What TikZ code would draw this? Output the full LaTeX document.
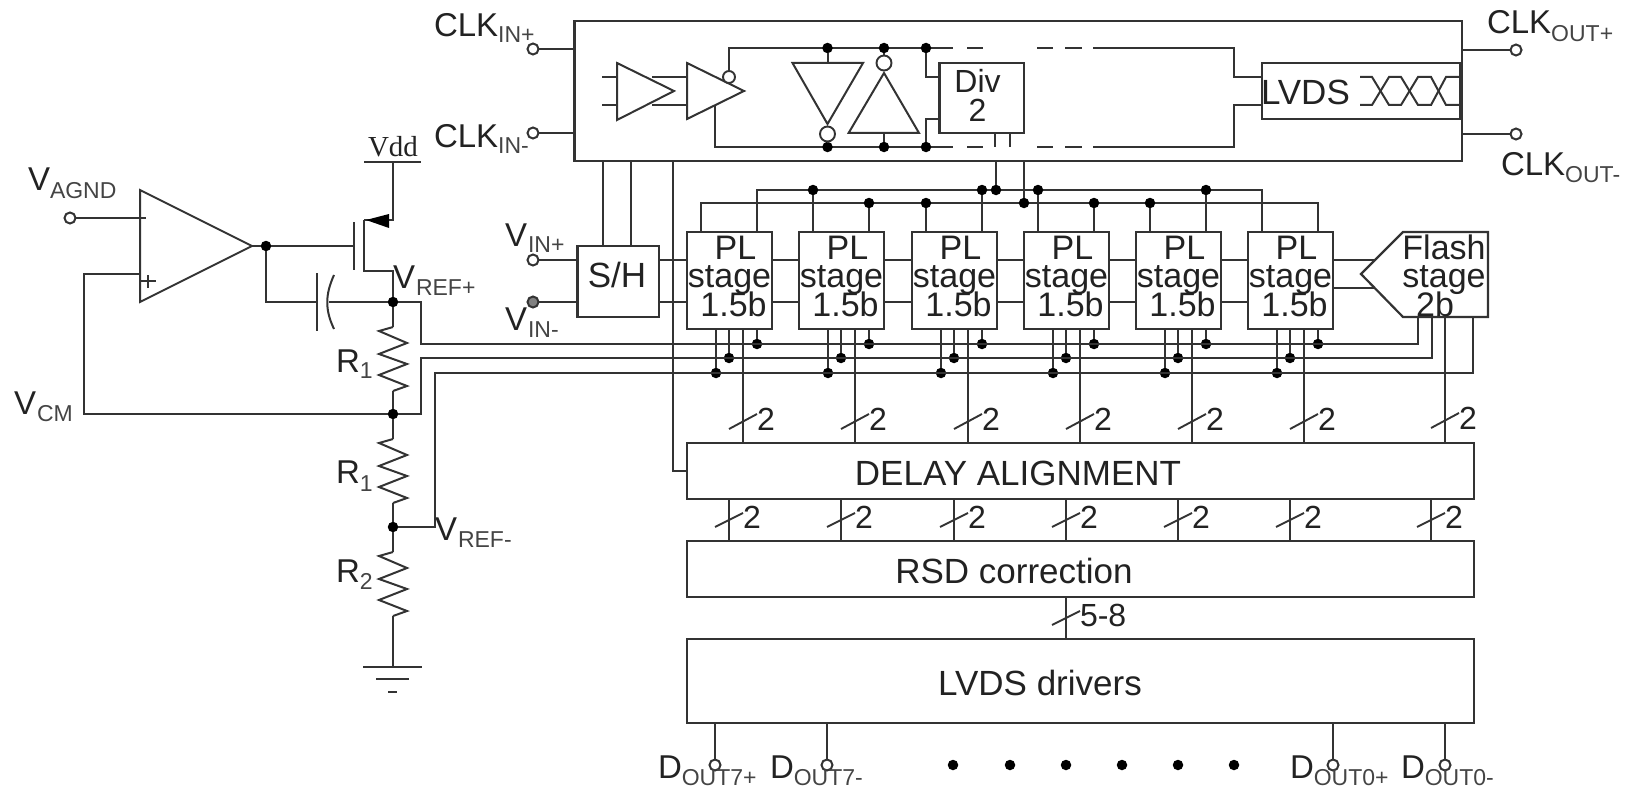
\documentclass[tikz,border=0pt]{standalone}
\usepackage{fontspec}
\setmainfont{Liberation Sans}
\usetikzlibrary{calc}
\definecolor{ln}{HTML}{333333}
\definecolor{tx}{HTML}{222222}
\definecolor{sb}{HTML}{444444}
\newcommand{\fsA}{\fontsize{33}{33}\selectfont}
\newcommand{\fsB}{\fontsize{23}{23}\selectfont}
\newcommand{\fsC}{\fontsize{32}{32}\selectfont}
\newcommand{\fsD}{\fontsize{35}{35}\selectfont}
\newcommand{\fsE}{\fontsize{34}{34}\selectfont}
% name, x, y (baseline-left), main, sub, drop, sub gap
\newcommand{\lbl}[7]{\node[txt,anchor=base west] (#1) at (#2,#3) {\fsA #4\hspace{#7pt}\raisebox{-#6pt}{\fsB\color{sb}#5}};}
\newcommand{\blk}[5]{\node[box,anchor=north west,minimum width={#4-#2},minimum height={#5-#3}] (#1) at (#2,#3) {};}
\newcommand{\resis}[1]{\draw[wire] (393,#1) -- (379,#1+4) -- (407,#1+16) -- (379,#1+27) -- (407,#1+37) -- (379,#1+48) -- (407,#1+59) -- (393,#1+64);}
% one line of a tight text stack: centred in the width, shifted by twice the gap given
\newcommand{\ctr}[2]{\hbox to 85pt{\hss#1#2\hss}}
\tikzset{
  x=1pt,y=-1pt,
  wire/.style={draw=ln,line width=2pt,line join=miter},
  thin wire/.style={draw=ln,line width=1.9pt},
  box/.style={draw=ln,line width=2.2pt,fill=none,inner sep=0pt,outer sep=0pt,rectangle},
  txt/.style={inner sep=0pt,outer sep=0pt,text=tx,align=center},
  dot/.style={circle,fill=black,draw=none,minimum size=10.5pt,inner sep=0pt,outer sep=0pt},
  pinc/.style={circle,draw=ln,line width=2pt,fill=white,minimum size=11pt,inner sep=0pt,outer sep=0pt},
  bub/.style={circle,draw=ln,line width=1.9pt,fill=white,minimum size=15pt,inner sep=0pt,outer sep=0pt},
  tri/.style={draw=ln,line width=2pt,line join=miter,fill=none},
}
\begin{document}
\begin{tikzpicture}
\useasboundingbox (0,0) rectangle (1640,789);
% ---------- rail reference coordinates
\coordinate (railA) at (0,190);
\coordinate (railB) at (0,203);
\coordinate (railC) at (0,344);
\coordinate (railD) at (0,358);
\coordinate (railE) at (0,373);
% ---------- blocks
\blk{clk}{574.5}{21}{1462}{161}
\blk{sh}{577.5}{246}{659}{317}
\node[txt] (shT) at (617,275) {\fsD S/H};
\blk{delay}{687}{443}{1474}{499}
\blk{rsd}{687}{541}{1474}{597}
\blk{drv}{687}{639}{1474}{723}
\node[txt] (delayT) at (1018,473) {\fsD DELAY ALIGNMENT};
\node[txt] (rsdT) at (1014,571) {\fsD RSD correction};
\node[txt] (drvT) at (1040,683) {\fsD LVDS drivers};
% ---------- pipeline stages
\foreach \i/\x in {1/687,2/799,3/912,4/1024,5/1136,6/1248}{
  \blk{p\i}{\x}{232}{\x+85}{329}
  \node[txt,anchor=base west] (p\i t) at (\x,259) {\fsE\vtop{\baselineskip=28.5pt\lineskiplimit=-1000pt\relax
     \ctr{\hspace*{12pt}}{PL}\ctr{}{stage}\ctr{\hspace*{8pt}}{1.5b}}};
  \coordinate (p\i s1) at (\x+14,232);
  \coordinate (p\i s2) at (\x+70,232);
  \coordinate (p\i b1) at (\x+29,329);
  \coordinate (p\i b2) at (\x+42,329);
  \coordinate (p\i b3) at (\x+56,329);
  \coordinate (p\i b4) at (\x+70,329);
  \node[dot] (p\i dE) at (p\i b1 |- railE) {};
  \node[dot] (p\i dD) at (p\i b2 |- railD) {};
  \node[dot] (p\i dC) at (p\i b4 |- railC) {};
  \draw[wire] (p\i b1) -- (p\i dE);
  \draw[wire] (p\i b2) -- (p\i dD);
  \draw[wire] (p\i b4) -- (p\i dC);
  \coordinate (u\i) at (p\i b3 |- delay.north);
  \coordinate (l\i) at (\x+42,499);
  \draw[wire] (p\i b3) -- (u\i);
  \draw[wire] (l\i) -- (l\i |- rsd.north);
  \draw[thin wire] ($(u\i)+(-14,-14)$) -- ($(u\i)+(14,-29)$);
  \node[txt] (u\i n) at ($(u\i)+(23,-24)$) {\fsC 2};
  \draw[thin wire] ($(l\i)+(-14,28)$) -- ($(l\i)+(14,14)$);
  \node[txt] (l\i n) at ($(l\i)+(23,18)$) {\fsC 2};
}
\foreach \a/\b in {1/2,2/3,3/4,4/5,5/6}{
  \draw[wire] (p\a.east |- 0,260) -- (p\b.west |- 0,260);
  \draw[wire] (p\a.east |- 0,302) -- (p\b.west |- 0,302);
}
% ---------- flash stage
\coordinate (fT) at (1403,232);
\coordinate (fTip) at (1361,274);
\coordinate (fB) at (1403,317);
\draw[box] (fT) -- (1488,232) -- (1488,317) -- (fB) -- (fTip) -- cycle;
\node[txt,anchor=base west] (flT) at (1401.5,259) {\fsE\vtop{\baselineskip=28.5pt\lineskiplimit=-1000pt\relax
     \ctr{}{Flash}\ctr{}{stage}\hbox to 85pt{\hss 2b\hspace*{18pt}\hss}}};
\draw[wire] (p6.east |- 0,260) -- (1375,260);
\draw[wire] (p6.east |- 0,288) -- (1375,288);
\coordinate (fu) at (1445,442);
\coordinate (fl) at (1431,499);
\draw[wire] (1445,317) -- (fu);
\draw[wire] (fl) -- (fl |- rsd.north);
\draw[thin wire] ($(fu)+(-14,-14)$) -- ($(fu)+(14,-29)$);
\node[txt] (fut) at ($(fu)+(23,-24)$) {\fsC 2};
\draw[thin wire] ($(fl)+(-14,28)$) -- ($(fl)+(14,14)$);
\node[txt] (flt) at ($(fl)+(23,18)$) {\fsC 2};
% 5-8 bus
\coordinate (bus) at (1066,597);
\draw[wire] (bus) -- (bus |- drv.north);
\draw[thin wire] (1052,625) -- (1080,611);
\node[txt,anchor=west] (bust) at (1080,615) {\fsC 5-8};
% ---------- rails on top of stages
\coordinate (aL) at (757,190); \coordinate (aR) at (1262,190);
\coordinate (bL) at (701,203); \coordinate (bR) at (1318,203);
\draw[wire] (p1s1) -- (bL) -- (bR) -- (p6s2);
\draw[wire] (p1s2) -- (aL) -- (aR) -- (p6s1);
\foreach \i/\lft/\rgt in {2/A/B,3/B/A,4/A/B,5/B/A}{
  \node[dot] (t\i l) at (p\i s1 |- rail\lft) {};
  \node[dot] (t\i r) at (p\i s2 |- rail\rgt) {};
  \draw[wire] (t\i l) -- (p\i s1);
  \draw[wire] (t\i r) -- (p\i s2);
}
% Clock feeds to rails
\coordinate (ck1) at (996,161); \coordinate (ck2) at (1024,161);
\node[dot] (ckd1) at (ck1 |- railA) {};
\node[dot] (ckd2) at (ck2 |- railB) {};
\draw[wire] (ck1) -- (ckd1);
\draw[wire] (ck2) -- (ckd2);
\draw[wire] (995,133) -- (995,147);
\draw[wire] (1010,133) -- (1010,147);
\draw[wire] (603,161) -- (603,246);
\draw[wire] (631,161) -- (631,246);
\draw[wire] (673,161) -- (673,471) -- (687,471);
% S/H to first stage
\draw[wire] (659,260) -- (687,260);
\draw[wire] (659,302) -- (687,302);
% ---------- clock block inside
\draw[tri] (617,63) -- (674,91) -- (617,120) -- cycle;
\draw[tri] (687,63) -- (744,91) -- (687,119) -- cycle;
\draw[wire] (602,77) -- (617,77);
\draw[wire] (602,105) -- (617,105);
\draw[wire] (652,77) -- (687,77);
\draw[wire] (652,105) -- (687,105);
\node[bub,minimum size=12pt] (bubIn) at (729,77) {};
\coordinate (tL) at (729,48); \coordinate (bL2) at (715,147); \coordinate (bU) at (715,105);
\draw[wire] (bubIn) -- (tL) -- (953,48);
\draw[wire] (bU) -- (bL2) -- (953,147);
\draw[wire] (967,48) -- (983,48); \draw[wire] (1037,48) -- (1053,48); \draw[wire] (1065,48) -- (1082,48);
\draw[wire] (967,147) -- (983,147); \draw[wire] (1037,147) -- (1053,147); \draw[wire] (1065,147) -- (1082,147);
\draw[wire] (1093,48) -- (1234,48) -- (1234,77) -- (1262,77);
\draw[wire] (1093,147) -- (1234,147) -- (1234,105) -- (1262,105);
% inverters
\draw[tri] (792.5,63) -- (863,63) -- (827.5,124) -- cycle;
\node[bub] (bubA) at (827.5,134) {};
\draw[tri] (848.6,133) -- (919,133) -- (884,73) -- cycle;
\node[bub] (bubB) at (884,63) {};
\node[dot] (iA) at (827.5,48) {};
\node[dot] (iB) at (884,48) {};
\node[dot] (iC) at (926,48) {};
\node[dot] (jA) at (827.5,147) {};
\node[dot] (jB) at (884,147) {};
\node[dot] (jC) at (926,147) {};
\draw[wire] (iA) -- (827.5,63);
\draw[wire] (jB) -- (884,133);
\draw[wire] (bubB) -- (iB);
\draw[wire] (bubA) -- (jA);
\blk{div}{939.5}{63}{1024}{133}
\node[txt,anchor=base west] (divT) at (935,92.5) {\fsC\vtop{\baselineskip=29pt\lineskiplimit=-1000pt\relax
     \ctr{}{Div}\ctr{}{2}}};
\draw[wire] (iC) -- (926,77) -- (939.5,77);
\draw[wire] (jC) -- (926,119) -- (939.5,119);
% LVDS
\blk{lv}{1262}{63}{1460}{119}
\node[txt,anchor=base west] (lvT) at (1261,105) {\fsD LVDS};
\draw[wire] (1360,77) -- (1372,77) -- (1389,105) -- (1401,105) -- (1418,77) -- (1431,77) -- (1446,105) -- (1462,105);
\draw[wire] (1360,105) -- (1372,105) -- (1389,77) -- (1401,77) -- (1418,105) -- (1431,105) -- (1446,77) -- (1462,77);
% ---------- pins
\node[pinc] (cip) at (533,49) {};
\node[pinc] (cim) at (533,133) {};
\node[pinc] (cop) at (1516,50) {};
\node[pinc] (com) at (1516,134) {};
\node[pinc] (vip) at (533,260) {};
\node[pinc,fill=gray] (vim) at (533,302) {};
\draw[wire] (cip) -- (clk.west |- cip);
\draw[wire] (cim) -- (clk.west |- cim);
\draw[wire] (cop) -- (clk.east |- cop);
\draw[wire] (com) -- (clk.east |- com);
\draw[wire] (vip) -- (sh.west |- vip);
\draw[wire] (vim) -- (sh.west |- vim);
\node[pinc] (d7p) at (715,765) {};
\node[pinc] (d7m) at (827,765) {};
\node[pinc] (d0p) at (1333,765) {};
\node[pinc] (d0m) at (1445,765) {};
\foreach \n in {d7p,d7m,d0p,d0m}{\draw[wire] (\n) -- (\n |- drv.south);}
\foreach \i/\x in {1/953,2/1010,3/1066,4/1122,5/1178,6/1234}{\node[dot] (bd\i) at (\x,765) {};}
% ---------- labels
\lbl{lcip}{434}{37}{CLK}{IN+}{6}{0}
\lbl{lcim}{434}{147}{CLK}{IN-}{6}{0}
\lbl{lcop}{1487}{34}{CLK}{OUT+}{8}{0}
\lbl{lcom}{1501}{175}{CLK}{OUT-}{7}{0}
\lbl{lvip}{505}{246}{V}{IN+}{6}{1}
\lbl{lvim}{505}{330}{V}{IN-}{7}{1}
\lbl{lvag}{28}{190}{V}{AGND}{8}{0}
\lbl{lvcm}{14}{414}{V}{CM}{7}{1}
\lbl{lvrp}{393}{288}{V}{REF+}{7}{1}
\lbl{lvrm}{435}{540}{V}{REF-}{7}{1}
\lbl{lr1a}{336}{372}{R}{1}{6}{0}
\lbl{lr1b}{336}{483}{R}{1}{8}{0}
\lbl{lr2}{336}{582}{R}{2}{7}{0}
\lbl{ld7p}{658}{778}{D}{OUT7+}{7}{0}
\lbl{ld7m}{770}{778}{D}{OUT7-}{7}{0}
\lbl{ld0p}{1290}{778}{D}{OUT0+}{7}{0}
\lbl{ld0m}{1401}{778}{D}{OUT0-}{7}{0}
% ---------- left circuit
\coordinate (oaTop) at (140,190); \coordinate (oaBot) at (140,302); \coordinate (oaTip) at (252,246);
\draw[tri] (oaTop) -- (oaTip) -- (oaBot) -- cycle;
\node[pinc] (vag) at (70,218) {};
\draw[wire] (vag) -- (146,218);
\draw[wire] (141,281) -- (156,281); \draw[wire] (148,275) -- (148,288);
\node[dot] (oOut) at (266,246) {};
\node[dot] (nP) at (393,302) {};
\node[dot] (nC) at (393,414) {};
\node[dot] (nM) at (393,527) {};
\draw[wire] (oaTip) -- (oOut) -- (353.5,246);
\draw[wire] (353.5,222) -- (353.5,270);
\draw[wire] (364,220) -- (364,271) -- (393,271) -- (nP);
\draw[wire] (364,220) -- (393,220) -- (393,162);
\fill[black] (366,220) -- (389,214) -- (389,228) -- cycle;
\draw[line width=2.4pt,draw=ln] (364,162) -- (421,162);
\node[txt,font=\fontspec{Liberation Serif}\fontsize{29}{29}\selectfont] (vdd) at (393,147) {Vdd};
\draw[wire] (140,274) -- (84,274) -- (84,414) -- (nC);
\draw[wire] (oOut) -- (266,302) -- (317,302);
\draw[wire] (317,273) -- (317,331);
\draw[wire] (334,275) .. controls (325,295) and (325,310) .. (334,329);
\draw[wire] (329,302) -- (nP);
% resistors
\draw[wire] (nP) -- (393,327);
\resis{327}
\draw[wire] (393,391) -- (nC);
\draw[wire] (nC) -- (393,439);
\resis{439}
\draw[wire] (393,503) -- (nM);
\draw[wire] (nM) -- (393,552);
\resis{552}
\draw[wire] (393,616) -- (393,667);
\draw[line width=2.6pt,draw=ln] (363,667) -- (422,667);
\draw[line width=2.4pt,draw=ln] (376,679) -- (409,679);
\draw[line width=1.8pt,draw=ln] (388,692) -- (397,692);
% rails C D E
\draw[wire] (nP) -- (421,302) -- (421,344) -- (1418,344) -- (1418,317);
\draw[wire] (nC) -- (421,414) -- (421,358) -- (1432,358) -- (1432,317);
\draw[wire] (nM) -- (435,527) -- (435,373) -- (1473,373) -- (1473,317);
\end{tikzpicture}
\end{document}
